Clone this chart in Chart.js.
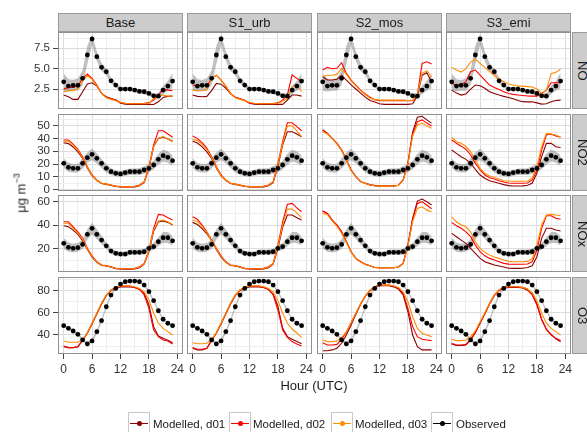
<!DOCTYPE html>
<html>
<head>
<meta charset="utf-8">
<script src="https://cdn.jsdelivr.net/npm/chart.js@4.4.1/dist/chart.umd.min.js"></script>
<style>
  html, body { margin: 0; padding: 0; background: #ffffff; }
  body { width: 587px; height: 432px; position: relative; overflow: hidden;
         font-family: "Liberation Sans", Arial, sans-serif; color: #1a1a1a; }
  canvas { position: absolute; }
  .strip { position: absolute; box-sizing: border-box; background: #cccccc;
           border: 1px solid #9a9a9a; font-size: 13px; color: #1a1a1a;
           display: flex; align-items: center; justify-content: center; }
  .strip.side span { writing-mode: vertical-rl; }
  .title { position: absolute; font-size: 13px; white-space: nowrap; color: #1a1a1a; }
  .ytitle { position: absolute; left: 21px; top: 193px; font-size: 13px; white-space: nowrap;
            transform: translate(-50%, -50%) rotate(-90deg); color: #262626; }
  .ytitle sup { font-size: 9px; vertical-align: 6px; line-height: 0; }
  .key { position: absolute; top: 412px; width: 22px; height: 22px; box-sizing: border-box;
         border: 1px solid #c8c8c8; background: #fff; }
  .key .ln { position: absolute; left: 1px; right: 1px; top: 10px; height: 1px; }
  .key .dot { position: absolute; left: 8px; top: 8px; width: 5px; height: 5px; border-radius: 50%; }
  .ltext { position: absolute; top: 418px; font-size: 11.5px; white-space: nowrap; color: #1a1a1a; }
</style>
</head>
<body>
<script>
// ---- categories and labels ----
const hours = [0,1,2,3,4,5,6,7,8,9,10,11,12,13,14,15,16,17,18,19,20,21,22,23];
const scenarios = ['Base', 'S1_urb', 'S2_mos', 'S3_emi'];
const species = ['NO', 'NO2', 'NOx', 'O3'];
const seriesNames = ['Modelled, d01', 'Modelled, d02', 'Modelled, d03', 'Observed'];
const xMajor = [0, 6, 12, 18, 24];
const xMinor = [3, 9, 15, 21];

// ---- observed means and their band ----
const obsNO    = [3.39,2.86,2.95,2.95,3.81,6.68,8.64,6.47,5.16,4.62,3.51,2.99,2.49,2.49,2.49,2.37,2.21,2.17,1.96,1.67,1.63,2.37,2.86,3.48];
const obsNOlo  = [2.3,2.2,2.3,2.3,3.0,5.6,7.9,5.9,4.7,4.2,3.2,2.7,2.25,2.25,2.25,2.1,1.95,1.9,1.7,1.4,1.35,1.9,2.3,2.6];
const obsNOhi  = [4.4,3.7,3.6,3.8,4.8,7.8,9.2,7.1,5.7,5.0,3.9,3.3,2.75,2.75,2.75,2.6,2.45,2.4,2.2,1.95,2.0,2.9,3.5,4.5];

const obsNO2   = [20.6,17.5,16.7,16.7,20.6,25,27.6,24.5,20.6,16.7,14.1,12.8,12.3,13.3,14.1,14.1,14.1,15.4,16.7,19.3,23.7,26.6,25.3,22.7];
const obsNO2lo = [17,14,13.5,13.5,16.5,21,23,20.5,17,13.5,11.5,10.5,10,11,11.5,11.5,11.5,12.5,13.5,16,19.5,22,21,18.5];
const obsNO2hi = [24.5,21,20,20,24.5,29,32,28.5,24,20,16.7,15.2,14.6,15.6,16.6,16.6,16.8,18.3,20,22.6,28,31.2,30,27];

const obsNOx   = [24.3,20.9,20,20.6,23.4,32,37.2,32,27.1,22.2,17.7,15.7,15.1,15.1,16.6,16.6,16.6,17.1,20,21.4,25.7,29.1,29.1,26.5];
const obsNOxlo = [19.5,17,16.5,17,19.5,27.5,32,28,23.5,19.5,15.3,13.5,13,13,14.3,14.3,14.3,14.7,17.5,18.5,22,24.5,24.5,22.5];
const obsNOxhi = [29,25,24,24.5,27.5,36.5,42,36.5,31,25,20,18,17.3,17.3,19,19,19,19.6,22.7,24.5,29.5,34,34,30.5];

const obsO3    = [48.4,46,43.6,40.6,35.5,31.9,34.6,43,52.9,65.5,76.1,82.1,86,88.1,88.7,88.7,88.1,85.1,79.1,71,61.9,54.2,50.6,48.4];
const obsO3lo  = [47.2,44.8,42.4,39.3,34,30.2,32.9,41.2,51,63.6,74.6,81,85,87.1,87.7,87.7,87.1,84,77.8,69.6,60.5,53,49.4,47.2];
const obsO3hi  = [49.6,47.2,44.8,41.9,37,33.6,36.3,44.8,54.8,67.4,77.6,83.2,87,89.1,89.7,89.7,89.1,86.2,80.4,72.4,63.3,55.4,51.8,49.6];

// ---- modelled NO ----
const NO_Base_d01 = [1.76,1.55,1.23,1.23,2.16,3.11,3.27,2.86,1.96,1.55,1.35,1.14,0.75,0.65,0.62,0.62,0.62,0.62,0.62,0.6,0.93,1.47,1.6,1.63];
const NO_Base_d02 = [2.49,2.7,2.7,2.86,3.81,4.34,3.81,2.99,1.96,1.47,1.35,1.14,0.85,0.75,0.72,0.72,0.72,0.75,0.8,1.14,1.76,2.49,2.37,2.29];
const NO_Base_d03 = [2.16,2.3,2.3,2.57,3.6,4.13,3.69,2.86,1.96,1.43,1.23,1.06,0.85,0.75,0.7,0.7,0.7,0.7,0.72,1.35,1.67,1.76,1.63,1.63];
const NO_S1_d01 = [1.76,1.6,1.55,1.6,2.3,3.2,3.1,2.6,1.9,1.5,1.3,1.1,0.75,0.65,0.62,0.62,0.62,0.62,0.62,0.62,1.14,1.76,1.76,1.63];
const NO_S1_d02 = [2.99,2.86,2.99,2.86,3.81,4.2,3.6,2.86,1.96,1.5,1.3,1.1,0.8,0.72,0.72,0.72,0.72,0.72,0.8,1.14,1.8,4.22,3.81,3.4];
const NO_S1_d03 = [2.37,2.29,2.29,2.45,3.81,4.2,3.6,2.86,1.96,1.43,1.23,1.06,0.85,0.75,0.7,0.7,0.7,0.7,0.72,1.0,1.35,2.78,2.99,2.16];
const NO_S2_d01 = [4.01,3.6,3.6,3.7,4.2,3.6,3.0,2.5,2.0,1.5,1.1,0.9,0.7,0.62,0.62,0.62,0.62,0.62,0.62,0.7,1.63,4.2,4.5,3.4];
const NO_S2_d02 = [4.83,5.16,5.0,5.04,5.73,4.42,3.6,2.99,2.37,1.9,1.5,1.2,1.06,1.06,1.06,1.06,1.06,1.06,1.06,1.06,1.76,5.65,5.85,5.57];
const NO_S2_d03 = [4.01,4.2,4.2,4.3,5.04,4.3,3.5,2.9,2.3,1.8,1.4,1.2,1.14,1.14,1.14,1.14,1.14,1.14,1.1,1.1,1.9,4.42,4.75,4.01];
const NO_S3_d01 = [2.37,2.0,1.76,1.9,2.5,2.99,2.9,2.6,2.16,1.96,1.76,1.6,1.47,1.3,1.1,0.95,0.93,0.93,0.8,0.65,0.7,0.93,1.1,1.14];
const NO_S3_d02 = [3.19,2.99,2.99,3.4,4.63,4.83,4.2,3.6,2.99,2.7,2.45,2.16,1.96,1.85,1.76,1.7,1.65,1.63,1.63,1.96,2.37,3.27,3.27,3.27];
const NO_S3_d03 = [5.16,4.83,4.59,5.0,5.8,6.15,5.65,5.16,4.63,4.14,3.81,3.4,3.11,3.0,2.86,2.86,2.8,2.75,2.5,1.96,2.37,4.38,4.55,4.96];

// ---- modelled NO2 ----
const NO2_Base_d01 = [36.7,36,33.4,29.5,24.5,17,10.8,7.2,4.8,4.2,3.4,2.6,2.2,2.1,2.1,2.2,3.2,5.5,16.5,33.7,40.1,40.9,39.6,38];
const NO2_Base_d02 = [38.8,38.8,35.5,31.6,25.8,18,11.5,7.6,5,4.5,3.7,2.8,2.4,2.4,2.4,2.6,3.7,6.3,18,35,46,46,43.5,40.9];
const NO2_Base_d03 = [37.9,37.9,34.8,30.8,25,17.5,11,7.4,4.9,4.4,3.6,2.7,2.3,2.3,2.3,2.5,3.5,6,17.5,33.7,40.1,41.4,39.6,37.5];
const NO2_S1_d01 = [37.9,36.5,33.5,29.5,24.5,17,10.8,7.2,4.8,4.2,3.4,2.6,2.2,2.1,2.1,2.2,3.2,5.5,18,35,45.3,45.3,43.5,41.4];
const NO2_S1_d02 = [42,40.1,36.7,32.3,26,18.2,11.5,7.6,5,4.5,3.7,2.8,2.4,2.4,2.4,2.6,3.7,6.3,20.6,37.5,52.3,52.3,49.2,46];
const NO2_S1_d03 = [39.1,38.5,35.3,31.2,25.2,17.6,11,7.4,4.9,4.4,3.6,2.7,2.3,2.3,2.3,2.5,3.5,6,19.5,36,49.8,49.8,46,41.4];
const NO2_S2_d01 = [46.6,44,40.1,36.2,31,23.2,15.4,10.2,6.3,5,3.8,3.2,2.9,2.9,2.9,3,3.5,7.6,20.6,45,56.6,57.3,54.5,52];
const NO2_S2_d02 = [46.6,44,40.1,36.2,31,23.2,15.4,10.2,6.3,5,3.8,3.2,2.9,2.9,2.9,3,3.5,7.6,20.6,44,53.1,54.5,52,49.8];
const NO2_S2_d03 = [45.3,43.5,39.8,35.8,30.5,22.8,15,10,6.2,4.9,3.7,3.1,2.8,2.8,2.8,2.9,3.4,7.2,19.8,42,50.5,52,49.8,48];
const NO2_S3_d01 = [31,28.4,25.8,23.7,20.6,15.9,11.5,8.9,7,6,5,4,3.2,2.9,2.9,3,3.5,5,12.8,25.8,36.2,36.2,33.6,33];
const NO2_S3_d02 = [38.8,36.2,34,31.6,27.1,20.6,15.4,11.5,9.3,8.4,7,6,5.2,5,5,5,5.2,7.6,15.4,31,42.7,43.5,41.9,40.9];
const NO2_S3_d03 = [40.9,37.5,36.2,33.7,29.7,23.2,16.7,12.8,10.7,9.7,8.4,7,6.8,6.6,6.6,6.6,6.8,8.9,18,33.6,44,43.5,42.7,40.9];

// ---- modelled NOx ----
const NOx_Base_d01 = [39.4,38.5,35.7,32,26.5,19,12.5,8,5.3,4.8,3.9,2.6,2.3,2.2,2.2,2.4,3.3,6.5,17,34.6,42.8,43.4,42.3,40];
const NOx_Base_d02 = [42.8,42.8,38.5,34.2,28.6,20,13.6,8.5,5.7,5.2,4.2,2.8,2.6,2.6,2.6,2.8,4.2,7.1,18.5,37.2,49.2,48.6,46.3,44.3];
const NOx_Base_d03 = [41.5,41.5,37.2,33,27.6,19.5,13,8.2,5.5,5,4,2.7,2.5,2.5,2.5,2.7,4,6.8,17.8,35.9,43.4,44.3,42.8,40.5];
const NOx_S1_d01 = [42.3,40.5,37,32.5,26.5,19,12.5,8,5.3,4.8,3.9,2.6,2.3,2.2,2.2,2.4,3.3,6.5,20,38,48.6,48.6,46.3,44.3];
const NOx_S1_d02 = [47.1,45,40,34.2,27.1,20,13.6,8.5,5.7,5.2,4.2,2.8,2.6,2.6,2.6,2.8,4.2,7.1,22.8,42.8,57.8,58.6,54.8,51.4];
const NOx_S1_d03 = [44.3,43,38.8,33.5,26.8,19.5,13,8.2,5.5,5,4,2.7,2.5,2.5,2.5,2.7,4,6.8,21.5,40,53.7,53.7,50.5,46.3];
const NOx_S2_d01 = [52,50,44.3,40,34.2,25.7,17.1,11.4,8.5,6.3,5.1,3.6,3.3,3.3,3.3,3.4,4,7.1,22.8,45.8,60.6,62.3,60,57.2];
const NOx_S2_d02 = [52,50,44.3,40,34.2,25.7,17.1,11.4,8.5,6.3,5.1,3.6,3.3,3.3,3.3,3.4,4,7.1,22.8,45,58.6,60.1,57,54];
const NOx_S2_d03 = [50,49,43.5,39,33,25,16.8,11.2,8.3,6.2,5,3.5,3.2,3.2,3.2,3.3,3.9,6.8,21.5,43,54.3,55.7,52.8,51.4];
const NOx_S3_d01 = [32.9,30,27.1,24.3,20,15.7,11.4,8.5,7.1,5.7,4.9,4,2.9,2.8,2.8,2.9,3.5,5.1,12.8,28.6,37.2,37.2,35.7,34.9];
const NOx_S3_d02 = [42.3,39.4,37.2,34.2,30,22.8,17.1,13.6,11.4,10,8.5,7.1,6.5,6.3,6.3,6.3,6.5,8.5,18.5,37.2,48,48,45.8,45];
const NOx_S3_d03 = [47.1,42.8,40,38.5,34.2,25.7,20,16.6,14.2,12.5,11.4,10,8.8,8.5,8.5,8.5,8.8,11,22.8,40,48.6,49.2,48.6,48];

// ---- modelled O3 ----
const O3_Base_d01 = [29.4,28.6,28.6,29.4,35,41.5,50,59,68,75.5,80,82.5,83.5,83.5,83.5,83,81,77.6,67.1,47.5,39.1,37,35.2,33];
const O3_Base_d02 = [30.1,28.6,28.6,29.4,35.5,42,50.6,59.6,68.6,76.1,80.6,83,84.2,84.2,84.2,83,81.5,76.1,64.1,44.5,38.5,35.5,34.6,31.9];
const O3_Base_d03 = [34.6,33.4,33.4,33.4,35.5,42.1,50.6,59.6,68.6,76.1,80.6,83,84.2,84.2,84.2,83.6,82.1,79.1,71.6,59.6,50.6,46,43,40];
const O3_S1_d01 = [28,26.5,26.5,28,35,41.5,50,59,68,75.5,80,82.5,83.5,83.5,83.5,83,81,77,66,46,38.5,36.1,34,32];
const O3_S1_d02 = [28.6,27.1,27.1,28,35.5,42,50.6,59.6,68.6,76.1,80.6,83,84.2,84.2,84.2,83,81.5,76.1,62.6,44.5,37.9,34,31.9,30.1];
const O3_S1_d03 = [33,32,32,32.5,36.1,42.1,50.6,59.6,68.6,76.1,80.6,83,84.2,84.2,84.2,83.6,82.1,79.1,71,59.6,50.6,45.4,41.8,37.9];
const O3_S2_d01 = [25.8,25.8,26.5,28,32.5,40,49,58.5,67.5,75,80,83,84.5,84.5,84.5,83.5,81.5,76.1,61,40,29.4,26.5,26.5,26.5];
const O3_S2_d02 = [33,31,31,31.5,36.1,42.5,51,59.6,68,75.2,80.6,83.6,85.1,85.1,85.1,84.2,82.5,77.6,64.1,47.5,38.5,36.1,35.5,34.9];
const O3_S2_d03 = [35.5,34,34,34.5,37.9,43,51.1,59.6,68,75.2,80.6,83.6,85.1,85.1,85.1,84.2,83,79.1,70,56.5,46,41.5,40,38.5];
const O3_S3_d01 = [31.9,30.5,30.5,31,35.5,42,50.5,59,68,75.5,80,82.5,83,83,83,82.5,80.5,77,68,54,45,40.5,36.5,33.8];
const O3_S3_d02 = [32.5,31,31,31.5,36.1,42.5,51,59.6,68.6,76.1,80.6,83,83.6,83.6,83.6,83,81.5,76.1,67.1,54.2,45.1,40,37,34.9];
const O3_S3_d03 = [36.1,34.9,34.9,35.5,38.5,43.9,52,60.1,68.6,76.1,80.6,83,83.6,83.6,83.6,83,81.5,78.2,71,59.6,50.6,46,43,40];

// ---- per-species axis ticks ----
const yMajorNO  = [2.5, 5, 7.5];     const yMinorNO  = [1.25, 3.75, 6.25, 8.75];
const yMajorNO2 = [0, 10, 20, 30, 40, 50]; const yMinorNO2 = [5, 15, 25, 35, 45, 55];
const yMajorNOx = [20, 40, 60];      const yMinorNOx = [10, 30, 50];
const yMajorO3  = [40, 60, 80];      const yMinorO3  = [30, 50, 70, 90];

// ---- lookup tables built from the arrays above ----
const observed = {
  NO:  [obsNO,  obsNOlo,  obsNOhi],
  NO2: [obsNO2, obsNO2lo, obsNO2hi],
  NOx: [obsNOx, obsNOxlo, obsNOxhi],
  O3:  [obsO3,  obsO3lo,  obsO3hi]
};
const modelled = {
  NO:  [[NO_Base_d01,NO_Base_d02,NO_Base_d03],[NO_S1_d01,NO_S1_d02,NO_S1_d03],[NO_S2_d01,NO_S2_d02,NO_S2_d03],[NO_S3_d01,NO_S3_d02,NO_S3_d03]],
  NO2: [[NO2_Base_d01,NO2_Base_d02,NO2_Base_d03],[NO2_S1_d01,NO2_S1_d02,NO2_S1_d03],[NO2_S2_d01,NO2_S2_d02,NO2_S2_d03],[NO2_S3_d01,NO2_S3_d02,NO2_S3_d03]],
  NOx: [[NOx_Base_d01,NOx_Base_d02,NOx_Base_d03],[NOx_S1_d01,NOx_S1_d02,NOx_S1_d03],[NOx_S2_d01,NOx_S2_d02,NOx_S2_d03],[NOx_S3_d01,NOx_S3_d02,NOx_S3_d03]],
  O3:  [[O3_Base_d01,O3_Base_d02,O3_Base_d03],[O3_S1_d01,O3_S1_d02,O3_S1_d03],[O3_S2_d01,O3_S2_d02,O3_S2_d03],[O3_S3_d01,O3_S3_d02,O3_S3_d03]]
};
const yAxes = {
  NO:  { min: 0.05, max: 9.5,  major: yMajorNO,  minor: yMinorNO,  digits: 1 },
  NO2: { min: -1.0, max: 59.1, major: yMajorNO2, minor: yMinorNO2, digits: 0 },
  NOx: { min: -0.3, max: 65.8, major: yMajorNOx, minor: yMinorNOx, digits: 0 },
  O3:  { min: 22.8, max: 92.4, major: yMajorO3,  minor: yMinorO3,  digits: 0 }
};

// ---- styling and layout ----
const lineColors = ['#8b0000', '#ff0000', '#ff8c00'];
const GRID_MAJOR = '#dcdcdc', GRID_MINOR = '#eeeeee';
const panelLeft = [58, 187, 317, 446];
const panelTop = [32, 114, 195, 277];
const PW = 125, PH = 77, M = 8, XAXIS_H = 30;

Chart.defaults.font.family = '"Liberation Sans", Arial, sans-serif';

function tickList(major, minor) {
  return major.map(v => ({ value: v, minor: false }))
    .concat(minor.map(v => ({ value: v, minor: true })))
    .sort((a, b) => a.value - b.value);
}
function xy(vals) { return vals.map((v, i) => ({ x: hours[i], y: v })); }

// rectangle around each facet
const panelBorder = {
  id: 'panelBorder',
  afterDraw(chart) {
    const a = chart.chartArea, ctx = chart.ctx;
    ctx.save();
    ctx.strokeStyle = '#8f8f8f';
    ctx.lineWidth = 1;
    ctx.strokeRect(Math.round(a.left) + 0.5, Math.round(a.top) + 0.5,
                   Math.round(a.right - a.left) - 1, Math.round(a.bottom - a.top) - 1);
    ctx.restore();
  }
};

function addDiv(cls, css, html) {
  const d = document.createElement('div');
  d.className = cls;
  Object.assign(d.style, css);
  if (html !== undefined) d.innerHTML = html;
  document.body.appendChild(d);
  return d;
}

function drawFacet(r, c) {
  const sp = species[r];
  const ax = yAxes[sp];
  const [obs, lo, hi] = observed[sp];
  const models = modelled[sp][c];
  const showY = c === 0, showX = r === 3;

  const cv = document.createElement('canvas');
  const left = showY ? 0 : panelLeft[c] - M;
  const width = (showY ? panelLeft[c] : M) + PW + M;
  const top = panelTop[r] - M;
  const height = M + PH + (showX ? XAXIS_H : M);
  cv.width = width; cv.height = height;
  cv.style.left = left + 'px'; cv.style.top = top + 'px';
  cv.style.width = width + 'px'; cv.style.height = height + 'px';
  document.body.appendChild(cv);

  const datasets = [
    { label: seriesNames[3], data: xy(obs), showLine: false, pointRadius: 2.4,
      pointBackgroundColor: '#000', pointBorderWidth: 0, borderColor: '#000' },
    { label: seriesNames[2], data: xy(models[2]), borderColor: lineColors[2], borderWidth: 1.1, pointRadius: 0, fill: false },
    { label: seriesNames[1], data: xy(models[1]), borderColor: lineColors[1], borderWidth: 1.1, pointRadius: 0, fill: false },
    { label: seriesNames[0], data: xy(models[0]), borderColor: lineColors[0], borderWidth: 1.1, pointRadius: 0, fill: false },
    { label: 'band-hi', data: xy(hi), borderWidth: 0, borderColor: 'rgba(0,0,0,0)', pointRadius: 0,
      fill: '+1', backgroundColor: 'rgba(140,140,140,0.55)' },
    { label: 'band-lo', data: xy(lo), borderWidth: 0, borderColor: 'rgba(0,0,0,0)', pointRadius: 0, fill: false }
  ];

  new Chart(cv, {
    type: 'line',
    data: { datasets },
    options: {
      responsive: false, animation: false, devicePixelRatio: 1, events: [],
      layout: { padding: { left: showY ? 0 : M, right: M, top: M, bottom: showX ? 0 : M } },
      elements: { line: { tension: 0 } },
      plugins: { legend: { display: false }, tooltip: { enabled: false } },
      scales: {
        x: {
          type: 'linear', min: -1.2, max: 25.2,
          afterBuildTicks: s => { s.ticks = tickList(xMajor, xMinor); },
          afterFit: s => { s.height = showX ? XAXIS_H : 0; s.paddingLeft = 0; s.paddingRight = 0; },
          border: { display: false },
          grid: {
            color: ctx => (ctx.tick && ctx.tick.minor) ? GRID_MINOR : GRID_MAJOR,
            lineWidth: 1, drawTicks: showX, tickLength: 5,
            tickColor: ctx => (ctx.tick && ctx.tick.minor) ? 'rgba(0,0,0,0)' : '#444'
          },
          ticks: {
            display: showX, autoSkip: false, maxRotation: 0, padding: 3,
            color: '#333', font: { size: 12 },
            callback: (v, i, t) => t[i].minor ? '' : String(v)
          }
        },
        y: {
          type: 'linear', min: ax.min, max: ax.max,
          afterBuildTicks: s => { s.ticks = tickList(ax.major, ax.minor); },
          afterFit: s => { s.width = showY ? panelLeft[0] : 0; s.paddingTop = 0; s.paddingBottom = 0; },
          border: { display: false },
          grid: {
            color: ctx => (ctx.tick && ctx.tick.minor) ? GRID_MINOR : GRID_MAJOR,
            lineWidth: 1, drawTicks: showY, tickLength: 5,
            tickColor: ctx => (ctx.tick && ctx.tick.minor) ? 'rgba(0,0,0,0)' : '#444'
          },
          ticks: {
            display: showY, autoSkip: false, padding: 3,
            color: '#333', font: { size: 11.5 },
            callback: (v, i, t) => t[i].minor ? '' : Number(v).toFixed(ax.digits)
          }
        }
      }
    },
    plugins: [panelBorder]
  });
}

for (let r = 0; r < species.length; r++) {
  for (let c = 0; c < scenarios.length; c++) drawFacet(r, c);
}

// facet strips
scenarios.forEach((s, c) => {
  addDiv('strip', { left: panelLeft[c] + 'px', top: (panelTop[0] - 19) + 'px', width: PW + 'px', height: '19px' }, s);
});
species.forEach((s, r) => {
  addDiv('strip side', { left: '572px', top: panelTop[r] + 'px', width: '20px', height: PH + 'px' }, '<span>' + s + '</span>');
});

// axis titles
addDiv('title', { left: '314px', top: '378px', transform: 'translateX(-50%)' }, 'Hour (UTC)');
addDiv('ytitle', {}, 'μg m<sup>−3</sup>');

// legend
const keyLeft = [128, 229, 331, 431];
const textLeft = [153, 253, 355, 456];
const keyColors = [lineColors[0], lineColors[1], lineColors[2], '#000'];
seriesNames.forEach((name, i) => {
  const k = addDiv('key', { left: keyLeft[i] + 'px' });
  const ln = document.createElement('div'); ln.className = 'ln'; ln.style.background = keyColors[i];
  const dot = document.createElement('div'); dot.className = 'dot'; dot.style.background = keyColors[i];
  k.appendChild(ln); k.appendChild(dot);
  addDiv('ltext', { left: textLeft[i] + 'px' }, name);
});
</script>
</body>
</html>
